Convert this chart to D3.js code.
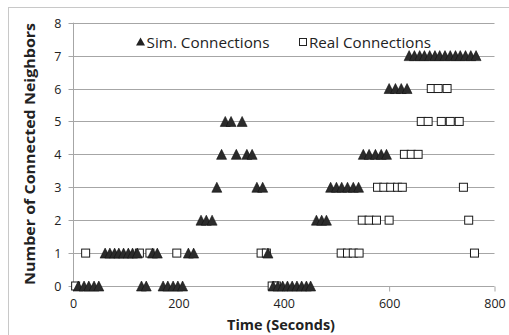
<!DOCTYPE html>
<html><head><meta charset="utf-8">
<script src="https://cdn.jsdelivr.net/npm/d3@7/dist/d3.min.js"></script>
<style>body{margin:0;background:#fff}svg{display:block}</style>
</head><body>
<svg id="c" width="509" height="335"></svg>
<script>
// Simulated connections: [time (s), neighbors]
const simTimes0 = [10,21,30,40,49,130,139,171,180,190,199,208,380,389,398,407,416,425,434,443,451];
const simTimes1 = [61,70,79,87,96,105,113,122,151,160,219,229,370];
const simTimes2 = [243,253,264,462,472,481];
const simTimes3 = [273,349,360,489,500,510,521,532,542];
const simTimes4 = [282,310,330,340,551,562,574,585,595];
const simTimes5 = [289,300,321];
const simTimes6 = [600,612,623,634];
const simTimes7 = [638,648,658,667,677,687,696,706,716,726,735,745,755,765];
// Real connections
const realTimes0 = [5,378,386];
const realTimes1 = [24,126,146,197,357,367,509,521,532,543,762];
const realTimes2 = [549,562,576,600,751];
const realTimes3 = [578,590,603,616,625,741];
const realTimes4 = [629,642,655];
const realTimes5 = [661,674,699,716,733];
const realTimes6 = [680,693,710];
const realTimes7 = [];
const xTicks = [0,200,400,600,800];
const yTicks = [0,1,2,3,4,5,6,7,8];
const legendLabels = ["Sim. Connections","Real Connections"];
const xTitle = "Time (Seconds)";
const yTitle = "Number of Connected Neighbors";

const simSets = [simTimes0,simTimes1,simTimes2,simTimes3,simTimes4,simTimes5,simTimes6,simTimes7];
const realSets = [realTimes0,realTimes1,realTimes2,realTimes3,realTimes4,realTimes5,realTimes6,realTimes7];
const sim = simSets.flatMap((a,k)=>a.map(t=>[t,k]));
const real = realSets.flatMap((a,k)=>a.map(t=>[t,k]));

const svg = d3.select("#c");
const font = "'Open Sans', 'Liberation Sans', sans-serif";
svg.append("rect").attr("x",8.5).attr("y",7.5).attr("width",700).attr("height",500)
  .attr("fill","#fff").attr("stroke","#c8c8c8");

const x = d3.scaleLinear().domain([0,800]).range([73,494.5]);
const y = d3.scaleLinear().domain([0,8]).range([286,22.7]);

// gridlines
svg.append("g").selectAll("line").data(yTicks.filter(d=>d>0)).join("line")
  .attr("x1",x(0)).attr("x2",x(800))
  .attr("y1",d=>Math.round(y(d))+0.5).attr("y2",d=>Math.round(y(d))+0.5)
  .attr("stroke","#a6a6a6").attr("stroke-width",1);

// y axis
const ya = svg.append("g").attr("transform",`translate(${Math.round(x(0))+0.5},0)`)
  .call(d3.axisLeft(y).tickValues(yTicks).tickSize(5).tickPadding(7).tickFormat(d3.format("d")));
ya.select(".domain").attr("stroke","#a6a6a6").attr("d",`M0,${y(8)}V${y(0)}`);
ya.selectAll(".tick line").attr("stroke","#a6a6a6");
ya.selectAll(".tick").attr("transform",d=>`translate(0,${Math.round(y(d))+0.5})`);
ya.selectAll("text").attr("font-family",font).attr("font-size",12.5).attr("fill","#222");

// x axis
const xa = svg.append("g").attr("transform",`translate(0,${Math.round(y(0))+0.5})`)
  .call(d3.axisBottom(x).tickValues(xTicks).tickSize(5).tickPadding(8).tickFormat(d3.format("d")));
xa.select(".domain").attr("stroke","#a6a6a6").attr("d",`M${x(0)},0H${x(800)}`);
xa.selectAll(".tick line").attr("stroke","#a6a6a6");
xa.selectAll("text").attr("font-family",font).attr("font-size",12.5).attr("fill","#222");

// markers
const triW = 10, triH = 10;
const tri = (cx,cy)=>`M${cx},${cy-triH/2}L${cx+triW/2},${cy+triH/2}L${cx-triW/2},${cy+triH/2}Z`;
svg.append("g").selectAll("rect").data(real).join("rect")
  .attr("x",d=>x(d[0])-4).attr("y",d=>y(d[1])-4).attr("width",8).attr("height",8)
  .attr("fill","#fff").attr("stroke","#1a1a1a").attr("stroke-width",1);
svg.append("g").selectAll("path").data(sim).join("path")
  .attr("d",d=>tri(x(d[0]),y(d[1])))
  .attr("fill","#2b2b2b").attr("stroke","#111").attr("stroke-width",0.6);

// legend
const lg = svg.append("g").attr("font-family",font).attr("font-size",14).attr("fill","#222");
lg.append("path").attr("d",`M140.5,37.5L145,45.5L136,45.5Z`).attr("fill","#222");
lg.append("text").attr("x",146.5).attr("y",48).attr("textLength",123).attr("lengthAdjust","spacingAndGlyphs").text(legendLabels[0]);
lg.append("rect").attr("x",299.5).attr("y",38.5).attr("width",7).attr("height",7)
  .attr("fill","#fff").attr("stroke","#222");
lg.append("text").attr("x",309).attr("y",48).attr("textLength",122).attr("lengthAdjust","spacingAndGlyphs").text(legendLabels[1]);

// titles
svg.append("text").attr("x",281).attr("y",330).attr("text-anchor","middle")
  .attr("font-family",font).attr("font-weight","bold").attr("font-size",13.5).attr("fill","#222")
  .attr("textLength",108).attr("lengthAdjust","spacingAndGlyphs").text(xTitle);
svg.append("text").attr("transform","translate(35,154) rotate(-90)").attr("text-anchor","middle")
  .attr("font-family",font).attr("font-weight","bold").attr("font-size",14).attr("fill","#222")
  .attr("textLength",262).attr("lengthAdjust","spacingAndGlyphs").text(yTitle);
</script>
</body></html>
